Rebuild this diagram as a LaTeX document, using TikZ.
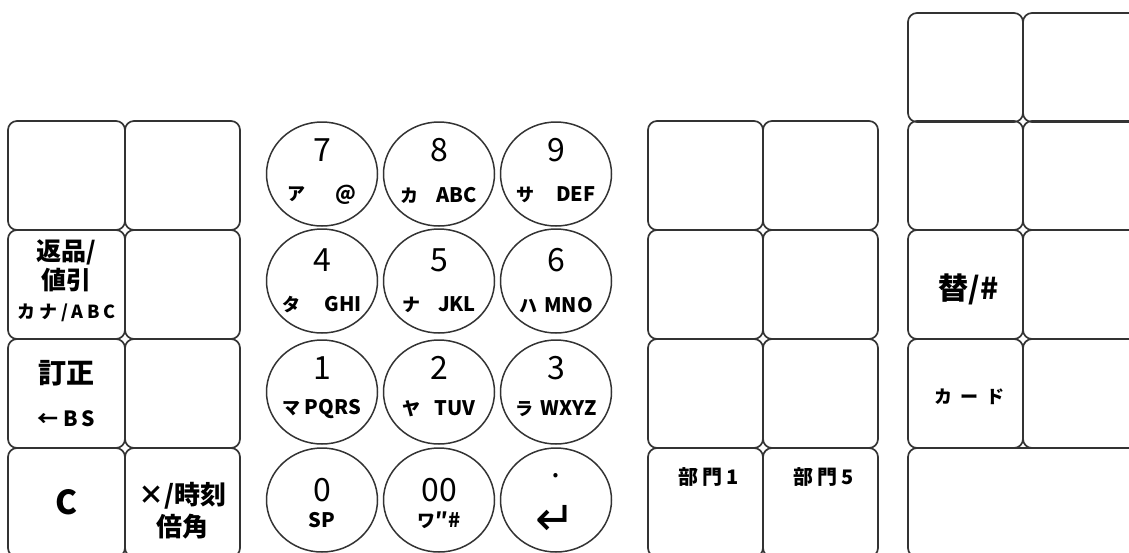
\documentclass[tikz,border=0pt]{standalone}
\usepackage{fontspec}
\setmainfont{Noto Sans CJK JP}
\newfontfamily\wide{Noto Sans CJK JP}[LetterSpace=22]
\newfontfamily\widest{Noto Sans CJK JP}[LetterSpace=45]
\newfontfamily\symfont{DejaVu Sans}
\usetikzlibrary{shapes.geometric}

\tikzset{
  keybox/.style={draw=black!80, line width=1.7pt, rounded corners=9pt,
    minimum width=#1, minimum height=109pt, inner sep=0pt, outer sep=0pt,
    anchor=north west},
  keybox/.default=115pt,
  padkey/.style={draw=black!80, ellipse, line width=1.5pt,
    minimum width=111pt, minimum height=104pt, inner sep=0pt},
  digit/.style={inner sep=0pt, font=\fontsize{32}{32}\selectfont},
  sublbl/.style={inner sep=0pt, font=\bfseries\fontsize{20}{20}\selectfont},
  keytxt/.style={inner sep=0pt, align=center, font=\bfseries\fontsize{25}{29}\selectfont}
}

\begin{document}
\begin{tikzpicture}[x=1pt,y=-1pt]
    \useasboundingbox (0,0) rectangle (1129,552);
    \clip (0,0) rectangle (1129,552);

    % left block
    \node[keybox=117pt] (l1a) at (8,121) {};
    \node[keybox] (l1b) at (125,121) {};
    \node[keybox=117pt] (l2a) at (8,230) {};
    \node[keybox] (l2b) at (125,230) {};
    \node[keybox=117pt] (l3a) at (8,339) {};
    \node[keybox] (l3b) at (125,339) {};
    \node[keybox=117pt] (l4a) at (8,448) {};
    \node[keybox] (l4b) at (125,448) {};

    \node[keytxt] (t2a) at ([yshift=4pt]l2a.center)
        {返品/\\値引\\[0pt]{\wide\fontsize{18}{18}\selectfont カナ/ABC}};
    \node[keytxt, font=\bfseries\fontsize{28}{29}\selectfont] (t3a) at (l3a.center)
        {訂正\\[14pt]{\wide\fontsize{21}{21}\selectfont ←BS}};
    \node[keytxt, font=\bfseries\fontsize{33}{33}\selectfont] (t4a) at (l4a.center) {C};
    \node[keytxt, font=\bfseries\fontsize{26}{32}\selectfont] (t4b)
        at ([yshift=-8pt]l4b.center) {×/時刻\\倍角};

    % ten keys
    \foreach \n/\x/\y/\up/\dn/\d/\k/\g/\l in {
        7/322/174/24/21/7/ア/30/@, 8/439/174/24/21/8/カ/18/ABC, 9/556/174/24/21/9/サ/22/DEF,
        4/322/281/21/24/4/タ/24/GHI, 5/439/281/21/24/5/ナ/18/JKL, 6/556/281/21/24/6/ハ/7/MNO,
        1/322/392/24/17/1/マ/4/PQRS, 2/439/392/24/17/2/ヤ/14/TUV, 3/556/392/24/17/3/ラ/7/WXYZ,
        0/322/500/10/20/0//0/SP, 00/439/500/10/20/00/ワ/0/″\#} {
      \node[padkey] (p\n) at (\x,\y) {};
      \node[digit] (d\n) at ([yshift=\up pt]p\n.center) {\d};
      \node[sublbl] (s\n) at ([yshift=-\dn pt]p\n.center)
          {{\fontsize{18}{18}\selectfont\k}\hspace{\g pt}\l};
    }
    \node[padkey] (pent) at (556,500) {};
    \node[digit] (dent) at ([yshift=24pt]pent.center) {.};
    \node[inner sep=0pt, font=\symfont\fontsize{48}{48}\selectfont] (sent)
        at ([yshift=-20pt]pent.center) {↵};

    % middle block
    \node[keybox] (m1a) at (648,121) {};
    \node[keybox] (m1b) at (763,121) {};
    \node[keybox] (m2a) at (648,230) {};
    \node[keybox] (m2b) at (763,230) {};
    \node[keybox] (m3a) at (648,339) {};
    \node[keybox] (m3b) at (763,339) {};
    \node[keybox] (m4a) at (648,448) {};
    \node[keybox] (m4b) at (763,448) {};

    \node[keytxt, font=\wide\bfseries\fontsize{20}{20}\selectfont] (t4c)
        at ([xshift=3pt,yshift=-29pt]m4a.north) {部門1};
    \node[keytxt, font=\wide\bfseries\fontsize{20}{20}\selectfont] (t4d)
        at ([xshift=3pt,yshift=-29pt]m4b.north) {部門5};

    % right block
    \node[keybox] (r0a) at (908,13) {};
    \node[keybox] (r0b) at (1023,13) {};
    \node[keybox] (r1a) at (908,121) {};
    \node[keybox] (r1b) at (1023,121) {};
    \node[keybox] (r2a) at (908,230) {};
    \node[keybox] (r2b) at (1023,230) {};
    \node[keybox] (r3a) at (908,339) {};
    \node[keybox] (r3b) at (1023,339) {};
    \node[keybox=230pt] (r4) at (908,448) {};

    \node[keytxt, font=\bfseries\fontsize{30}{30}\selectfont] (t2e)
        at ([xshift=3pt,yshift=-5pt]r2a.center) {替/\#};
    \node[keytxt, font=\widest\bfseries\fontsize{18}{18}\selectfont] (t3e)
        at ([xshift=4pt,yshift=-3pt]r3a.center) {カード};
\end{tikzpicture}
\end{document}
